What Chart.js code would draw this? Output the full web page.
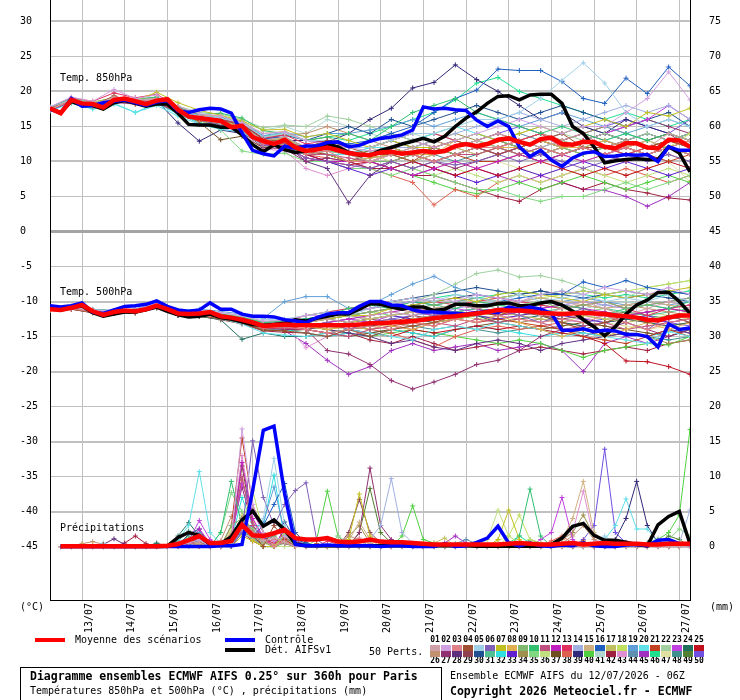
<!DOCTYPE html>
<html><head><meta charset="utf-8">
<script src="https://cdn.jsdelivr.net/npm/chart.js@4.4.1/dist/chart.umd.min.js"></script>
<style>html,body{margin:0;padding:0;background:#fff}canvas{display:block}</style>
</head><body>
<canvas id="c" width="740" height="700"></canvas>
<script>
// ---------- DATA ----------
const dayLabels = ['13/07','14/07','15/07','16/07','17/07','18/07','19/07','20/07','21/07','22/07','23/07','24/07','25/07','26/07','27/07'];
const leftTicks = [30,25,20,15,10,5,0,-5,-10,-15,-20,-25,-30,-35,-40,-45];
const rightTicks = [75,70,65,60,55,50,45,40,35,30,25,20,15,10,5,0];

// 6-hourly (0..360h) main series
const t850Mean = [17.6,16.9,18.8,18.3,18.2,17.7,18.8,19.0,18.6,18.2,18.7,18.9,17.4,16.4,16.2,16.0,15.8,14.9,15.1,13.5,12.9,12.5,13.1,12.0,11.5,11.7,12.0,11.6,11.2,11.0,10.9,11.3,11.4,11.1,11.3,11.5,11.3,11.5,12.2,12.5,12.2,12.5,13.1,13.3,12.8,12.4,13.2,13.4,12.5,12.4,12.8,12.8,12.1,11.9,12.6,12.6,12.0,11.9,13.1,13.0,12.1];
const t850Ctrl = [17.5,16.9,19.0,17.9,18.0,18.4,18.6,18.8,18.4,18.0,18.5,18.7,17.2,17.0,17.4,17.6,17.5,16.9,14.1,11.6,11.1,10.8,12.2,11.9,12.2,12.2,12.7,12.8,12.1,12.3,12.9,13.3,13.5,13.8,14.5,17.8,17.5,17.6,17.4,17.3,15.9,15.0,15.8,15.0,12.1,10.7,11.6,10.2,9.3,10.5,11.2,11.4,10.7,10.8,11.0,10.9,11.0,10.0,12.1,11.6,11.6];
const t850Det = [17.5,17.0,18.6,18.0,18.0,17.5,18.4,18.7,18.3,17.9,18.2,18.2,16.9,15.3,15.2,15.2,14.9,14.9,13.8,12.4,11.4,12.4,11.7,11.3,11.5,11.9,12.5,12.1,11.3,10.9,10.9,11.6,12.0,12.5,12.9,13.3,12.8,13.6,15.0,16.2,17.1,18.3,19.3,19.4,18.8,19.5,19.6,19.6,18.3,15.0,14.0,12.1,9.8,10.1,10.3,10.4,10.3,10.3,12.1,11.2,8.5];
const t500Mean = [-11.1,-11.2,-10.9,-10.5,-11.4,-11.9,-11.5,-11.3,-11.4,-11.1,-10.6,-11.1,-11.7,-11.8,-11.7,-11.5,-12.1,-12.3,-12.6,-13.0,-13.5,-13.4,-13.3,-13.4,-13.4,-13.4,-13.4,-13.4,-13.4,-13.3,-13.1,-13.1,-13.0,-12.9,-12.8,-12.6,-12.4,-12.2,-12.1,-11.9,-11.7,-11.5,-11.2,-11.3,-11.3,-11.4,-11.6,-11.7,-11.8,-11.7,-11.6,-11.7,-11.8,-12.0,-12.1,-12.3,-12.6,-12.7,-12.3,-12.0,-12.0];
const t500Ctrl = [-10.6,-10.8,-10.6,-10.2,-11.5,-11.7,-11.2,-10.7,-10.6,-10.4,-9.9,-10.7,-11.2,-11.4,-11.2,-10.2,-11.1,-11.1,-11.8,-12.1,-12.1,-12.2,-12.6,-12.8,-13.0,-12.3,-11.8,-11.6,-11.6,-10.7,-10.0,-10.0,-10.5,-10.6,-11.2,-11.5,-11.5,-11.6,-11.7,-11.8,-11.6,-11.4,-11.6,-10.8,-11.1,-10.8,-11.1,-11.7,-14.1,-14.1,-13.9,-14.3,-14.1,-14.2,-14.7,-14.7,-15.0,-16.5,-13.2,-14.0,-13.8];
const t500Det = [-11.0,-11.2,-10.9,-10.6,-11.6,-12.1,-11.8,-11.5,-11.5,-11.2,-10.8,-11.4,-11.9,-12.2,-12.1,-11.8,-12.3,-12.5,-12.9,-13.3,-13.4,-13.3,-13.1,-12.6,-12.8,-12.4,-12.1,-11.8,-11.8,-11.1,-10.3,-10.4,-10.8,-11.1,-10.8,-10.8,-11.3,-11.1,-10.4,-10.4,-10.6,-10.6,-10.3,-10.2,-10.6,-10.6,-10.2,-10.0,-10.5,-11.4,-12.6,-13.6,-14.9,-13.6,-11.8,-10.5,-9.8,-8.7,-8.7,-10.0,-11.7];
const rrMean = [null,0.05,0.05,0.05,0.05,0.05,0.05,0.05,0.05,0.05,0.05,0.1,0.35,0.9,1.5,0.5,0.5,0.8,3.1,1.6,1.5,1.9,2.4,1.2,1.0,1.0,1.2,0.7,0.6,0.7,1.0,0.7,0.6,0.6,0.5,0.4,0.3,0.3,0.3,0.3,0.3,0.3,0.3,0.4,0.5,0.4,0.3,0.3,0.4,0.5,0.3,0.4,0.5,0.4,0.4,0.4,0.3,0.3,0.4,0.4,0.4];
const rrCtrl = [null,0,0,0,0,0,0,0,0,0,0,0,0,0,0,0,0.1,0.1,0.3,8.0,16.6,17.2,7.5,0.3,0.1,0.1,0.2,0.1,0.1,0.1,0.1,0,0.1,0.1,0,0,0,0.4,0,0.1,0.6,1.2,2.9,0.5,0.1,0.5,0.1,0,0.2,0.1,0.5,0.1,0,0,0.2,0.3,0.1,0.9,1.0,0.4,0.3];
const rrDet = [null,0,0,0,0,0,0,0,0,0,0,0.05,1.3,2.0,1.6,0.3,0.4,1.4,3.8,5.1,2.9,3.8,2.4,0.4,0.1,0.1,0.1,0.1,0.1,0.1,0.1,0.1,0.1,0.1,0.1,0.1,0.1,0.1,0.1,0.1,0.05,0.05,0.05,0.05,0.05,0.05,0.05,0.3,1.2,2.9,3.3,1.6,0.9,0.9,0.6,0.3,0.1,3.1,4.3,5.0,0.4];

const memberColors = ['#d0a0a8','#d0a0e0','#e08088','#a05030','#a0d0e8','#8060b8','#c0c020','#e0b050','#80b870','#30c070','#c05080','#c020c0','#e03060','#a0b0e0','#d0b080','#2060c0','#c0c060','#c0e060','#60a0d8','#60e0e8','#c04020','#a0d0a0','#c040e0','#207060','#c01020',
'#c09070','#903070','#603080','#904050','#205090','#50c090','#30e0e0','#6020d0','#a09050','#80d880','#c0e080','#705020','#e06050','#302878','#50d040','#b0d8d0','#a02040','#e090d0','#6090b0','#a030c0','#20e090','#e0e0a0','#409090','#508030','#7050e0'];

// 12-hourly (0..360h) members, T850
const t850Members = [
[17.4,18.9,18.0,19.2,18.8,19.0,17.6,16.0,15.5,14.8,13.0,13.5,12,12,11,10,11,12,11,12,13,14,13,12,13,14,12,13,12,14,13],
[17.8,19.2,18.6,20.3,19.0,19.5,17.9,16.8,16.5,15.5,14.0,14.2,13,12.5,12,11.5,12,13,12,13,14,15,16,15,14,15,15,17,19,22.8,18.8],
[17.5,18.6,18.3,18.9,18.5,18.9,17.2,16.3,15.6,14.6,12.5,13.0,11,11.5,10,10,11,11,10,11,12,12,13,12,11,12,11,12,11,12,11],
[17.6,18.7,17.9,19.4,18.3,18.6,17.0,15.8,15.9,15.3,13.2,12.8,12,13,12,11,11,10,12,13,12,11,12,13,14,12,12,13,12,13,12],
[17.7,18.9,18.4,18.9,18.9,18.8,17.5,16.5,16.2,15.5,13.5,14.0,13,13,12,12,13,14,14,15,16,16,17,19,21.6,24.1,21.2,17,15,16,15],
[17.3,18.5,18.0,18.6,18.4,18.5,17.3,15.9,15.2,14.5,12.3,12.0,10.5,10,9.5,9,10,9,10,9.5,10,11,10,11,10,9,10,11,10,11,10],
[17.6,18.8,18.5,19.0,18.7,19.9,18.4,17.3,16.6,15.8,14.5,14.6,13.5,14,13,12,13,12,12,13,14,13,14,15,14,15,16,15,17,16.5,17.6],
[17.5,18.4,17.9,18.8,18.2,18.6,17.1,15.7,15.8,15.0,13.0,13.4,12,12.5,11,11,12,11,11,13,12,12,12,13,12,12,13,12,11,12,13],
[17.6,18.7,18.1,18.7,18.6,18.8,17.4,16.0,15.4,14.9,12.7,12.8,11,11.5,11,10,10,11,12,11,12,13,12,13,12,11,12,13,12,12,11],
[17.8,19.0,18.4,19.1,18.9,19.2,17.8,16.7,16.9,16.2,14.4,14.0,13,13.5,14,13,15,17,18,19,17,16,15,14,15,14,13,14,13,14,13],
[17.4,18.5,18.2,18.5,18.4,18.5,17.1,15.9,15.5,14.7,12.6,12.6,11,11,10.5,10,10,11,10,11,11,12,11,12,11,12,11,10,11,12,11],
[17.6,18.8,18.3,18.9,18.7,18.6,17.3,16.1,15.6,14.6,12.4,12.2,10.5,10,10,10,9,8,9,10,9,10,11,10,11,10,11,12,11,12,13],
[17.7,19.1,18.6,19.8,19.1,19.6,17.8,16.6,16.0,15.4,13.3,13.8,12.5,13,12,12,13,14,14,13,12,12,13,14,12,13,12,11,12,13,12],
[17.5,18.7,18.0,18.7,18.5,18.7,17.4,16.3,15.9,15.2,13.1,13.0,12,12.5,11.5,11,12,12,13,14,15,16,17,16,15,16,17,18,17,18,16],
[17.6,18.9,18.4,19.0,18.8,19.1,17.6,16.6,16.5,15.6,14.0,14.3,13,13.5,12,12,11,12,13,12,13,12,13,14,13,12,11,12,13,12,11],
[17.5,18.8,18.2,18.8,18.6,18.9,17.5,16.4,16.0,15.3,13.3,13.5,12,13,12.5,13,14,15,17,19,20.2,23.2,23,23,21.4,19,18.3,21.9,19.7,23.5,20.8],
[17.6,18.6,18.2,18.7,18.4,18.6,17.2,15.8,15.2,14.6,12.2,12.4,11,11,10,10.5,11,10,11,12,11,12,12,11,12,13,12,11,12,13,12],
[17.4,18.7,18.0,18.9,18.6,19.0,17.4,16.2,15.7,14.8,12.8,13.2,12,12,11,10,10,11,10,11,11,12,11,12,11,10,11,12,13,12,14],
[17.6,18.8,18.4,18.8,18.8,18.9,17.7,16.5,16.3,15.7,13.7,14.2,13.5,14,14,14.5,15,16,15,16,17,16,15,16,17,16,15,14,15,16,15],
[17.2,18.4,17.6,18.2,17.0,18.0,16.5,15.3,14.6,14.2,12.3,12.0,11,11,11,12,12,13,14,15,14,13,13,12,13,12,13,14,13,12,13],
[17.6,18.9,18.3,18.9,18.6,18.8,17.3,16.0,15.7,15.0,12.8,12.7,11.5,11,10,10.5,11,11,12,11,10,10,11,10,11,12,11,12,11,10,11],
[17.7,18.8,18.5,19.1,18.9,19.2,17.9,17.0,16.8,16.0,14.8,15.2,15,16.5,16,15,14,13,14,13,14,13,14,15,14,13,14,13,14,13,14],
[17.5,18.7,18.1,18.8,18.5,18.7,17.4,16.1,15.6,15.0,12.9,12.9,11.5,12,11,10,10,11,10,11,12,11,12,11,12,13,14,15,16,18,16],
[17.6,18.9,18.3,18.9,18.7,18.8,17.5,16.3,15.9,15.1,13.0,12.9,11.5,11,11,11,12,11,10,11,12,12,11,12,11,12,11,12,11,12,11],
[17.5,18.6,18.1,18.7,18.5,18.7,17.2,15.9,15.5,14.8,12.7,12.5,11,10,9.5,10,9,10,9,8,9,8,9,10,9,8,9,8,9,10,9],
[17.6,18.8,18.3,18.8,18.6,18.7,17.5,16.4,16.2,15.4,13.5,13.8,14,15,14,13,12,13,12,11,12,13,12,11,12,11,12,11,12,11,10],
[17.3,18.5,17.8,18.5,18.2,18.4,17.0,15.8,15.4,14.3,12.0,11.8,10,10.5,10,9,10,9,10,9,10,11,12,13,12,13,14,15,16,15,14],
[17.6,18.7,18.2,18.8,18.5,18.6,17.2,15.9,15.3,14.6,12.2,12.5,10,9,4.1,8,10,11,10,11,12,11,12,13,12,13,14,13,14,13,14],
[17.5,18.7,18.2,18.7,18.6,18.7,17.4,16.2,15.8,15.0,12.9,13.0,12,12.5,12,12,13,12,13,12,13,14,13,14,13,14,13,12,13,14,12],
[17.6,18.9,18.3,18.9,18.7,18.9,17.5,16.3,15.9,15.2,13.2,13.8,13,14,15,14,16,15,16,17,18,17,16,17,18,17,16,15,16,17,15],
[17.7,18.9,18.3,19.0,18.7,19.0,17.6,16.4,16.0,15.3,13.1,13.3,12,12,11,11,12,11,12,11,12,13,12,11,12,11,12,13,12,13,14],
[17.3,18.3,17.5,18.3,17.0,18.3,16.8,15.5,15.2,14.5,12.5,12.7,11,11.5,11,12,13,12,11,12,13,12,13,12,11,12,13,12,11,12,11],
[17.6,18.7,18.2,18.8,18.6,18.7,17.3,16.0,15.5,14.8,12.6,12.3,11,10,9,8,9,10,9,8,7,8,9,8,9,10,9,10,9,8,9],
[17.6,18.7,18.3,18.7,18.7,18.8,17.4,16.1,15.7,15.0,12.9,13.1,12,12,11,11,12,12,13,14,13,12,13,14,13,14,15,14,13,14,13],
[17.5,18.6,18.1,18.6,18.4,18.6,17.2,15.9,14.5,11.5,11.0,11.2,10,10,9,9,8,9,8,7,6,6,5,4.3,5,5,6,7,6,7,8],
[17.6,18.8,18.3,18.8,18.7,18.8,17.5,16.4,16.0,15.2,13.1,13.1,11.5,12,11,11,10,9,8,9,8,7,8,7,8,9,8,7,8,9,8],
[17.5,18.6,18.0,18.6,18.3,18.5,17.1,15.6,13.1,13.6,12.0,12.2,11,11,10,11,12,13,12,11,12,13,12,11,12,13,14,13,12,13,12],
[17.6,18.8,18.2,18.9,18.6,18.9,17.4,16.2,15.6,14.9,12.8,12.5,11,10.5,10,9,8,7,3.8,6,5,7,8,7,8,9,8,9,8,7,8],
[17.6,18.8,18.2,18.8,18.5,18.7,15.5,12.9,14.5,14.0,12.5,13.0,13,12.8,14,16,17.6,20.5,21.3,23.8,21.7,20,18,16,17,15,14,16,15,14,13],
[17.5,18.7,18.1,18.7,18.6,18.7,17.3,16.1,15.6,14.9,12.7,12.6,11,11,10,10,9,8,7,6,5.4,6,7,6,7,8,7,6,7,8,7],
[17.7,18.9,18.4,19.0,18.8,19.2,17.7,16.7,16.4,15.6,14.5,15.0,14,16,15,14,13,14,13,12,13,12,13,12,13,12,13,12,13,14,13],
[17.5,18.6,18.0,18.6,18.4,18.5,17.1,15.8,15.3,14.5,12.3,12.1,10.5,10,10,9,9,8,8,7,6,5,4.3,6,7,6,7,6,5.5,4.8,4.5],
[17.4,18.5,17.9,18.4,18.2,18.3,16.9,15.4,14.8,14.0,11.8,11.5,9,8,9,10,11,10,11,12,11,12,11,12,11,12,13,12,11,12,11],
[17.6,18.7,18.3,18.8,18.6,18.8,17.5,16.3,16.0,15.3,13.3,13.4,12,12.5,12,13,14,13,14,13,14,13,14,13,14,15,14,13,14,13,14],
[17.5,18.7,18.2,18.7,18.5,18.6,17.2,15.9,15.4,14.7,12.5,12.3,11,10,9,10,9,8,9,8,9,8,7,8,7,6,5.9,5,3.6,5,7],
[17.7,18.9,18.4,19.0,18.8,19.1,17.7,16.6,16.2,15.5,13.6,14.0,13,13.5,13,14,15,16,17,18.8,21.2,22,20,19,18,17,16,17,16,15,16],
[17.6,18.8,18.3,18.9,18.7,18.9,17.5,16.2,15.8,15.1,13.0,13.0,11.5,11,11,10,11,10,9,10,9,10,9,8,9,8,9,8,9,10,7.1],
[17.5,18.7,18.1,18.7,18.5,18.7,17.3,16.0,15.5,14.8,12.6,12.7,11,11,10,10,11,10,11,10,11,12,11,10,11,12,11,10,11,12,11],
[17.6,18.8,18.3,18.8,18.6,18.8,17.5,16.3,15.9,15.0,13.1,13.3,12,12,11,11.5,12,11,12,13,12,13,12,13,12,13,12,11,12,13,12],
[17.5,18.6,18.1,18.7,18.5,18.7,17.3,16.0,15.5,14.9,12.6,12.8,11.5,11,10,10,11,12,11,12,13,14,15,14,13,14,15,16,15,14,16]
];

// 12-hourly members, T500
const t500Members = [
[-11.2,-10.9,-11.3,-11.6,-11.3,-10.4,-11.6,-11.5,-12.0,-12.4,-13.2,-13.0,-13,-12.5,-13,-12,-11.5,-12,-11,-10.5,-11,-10,-11,-12,-11,-10,-11,-12,-11,-10,-11],
[-11.0,-10.7,-11.2,-11.3,-11.1,-10.2,-11.4,-11.3,-11.6,-12.0,-12.8,-12.7,-12,-12,-11.5,-11,-10.5,-10,-9.5,-10,-9,-9.5,-10,-9,-8.5,-9,-8,-8.5,-9,-8,-9],
[-11.1,-11.0,-11.5,-11.6,-11.5,-10.7,-11.8,-11.9,-12.3,-12.9,-13.8,-13.6,-14,-14.5,-14,-13.5,-14,-13,-13.5,-12.5,-13,-12,-12.5,-13,-12.5,-13,-12,-13,-14,-13,-12.5],
[-11.2,-11.1,-11.6,-11.7,-11.6,-10.8,-11.9,-12.0,-12.5,-13.0,-14.0,-14.2,-14.5,-15,-14,-15,-14,-13.5,-13,-12,-11.5,-12,-11,-12,-13,-14,-13,-12,-13,-12,-13],
[-11.0,-10.8,-11.2,-11.4,-11.2,-10.3,-11.4,-11.2,-11.6,-12.0,-12.6,-12.5,-12,-11.5,-12,-11,-10,-9.5,-10,-9,-9.5,-10,-9,-10,-9.5,-9,-10,-9.5,-10,-9,-10],
[-11.2,-11.0,-11.4,-11.6,-11.5,-10.7,-11.8,-11.8,-12.2,-12.8,-13.5,-13.6,-13.5,-13,-14,-13,-12.5,-13,-12,-11.5,-12,-11,-12,-13,-12,-11,-12,-13,-14,-12,-13],
[-11.1,-10.9,-11.3,-11.4,-11.3,-10.5,-11.6,-11.6,-12.0,-12.5,-13.4,-13.2,-13,-12.5,-12,-12,-11,-10.5,-10,-9.5,-10,-9,-8.5,-9,-9.5,-10,-9,-9.5,-9,-8.5,-8],
[-11.2,-11.0,-11.5,-11.5,-11.5,-10.7,-11.8,-11.9,-12.3,-12.8,-13.7,-13.5,-13.5,-14,-13.5,-13,-13.5,-14,-13,-12.5,-13,-12,-13,-14,-15,-14,-15,-14,-13,-14,-13],
[-11.1,-10.8,-11.3,-11.4,-11.3,-10.5,-11.6,-11.5,-11.9,-12.4,-13.2,-13.1,-13,-12.5,-12,-11.5,-11,-11,-10.5,-10,-9.5,-10,-10.5,-10,-11,-10.5,-10,-11,-10.5,-10,-9.5],
[-11.0,-10.8,-11.2,-11.3,-11.1,-10.3,-11.4,-11.4,-11.8,-12.3,-13.0,-12.8,-12.5,-12,-11,-10.5,-11,-10,-10.5,-11,-10,-10.5,-11,-10,-10.5,-11,-12,-11,-10.5,-11,-10],
[-11.2,-11.0,-11.5,-11.6,-11.5,-10.8,-11.9,-12.0,-12.4,-12.9,-13.8,-13.8,-14,-14.5,-15,-14,-13.5,-14,-13,-13.5,-12.5,-13,-12.5,-13,-14,-13.5,-13,-14,-13.5,-13,-12.5],
[-11.1,-10.9,-11.4,-11.5,-11.4,-10.6,-11.7,-11.7,-12.1,-12.6,-13.5,-13.4,-13.5,-13,-12.5,-12,-11.5,-11,-11.5,-10.5,-11,-12,-11.5,-11,-10.5,-11,-11.5,-12,-11.5,-11,-11.5],
[-11.2,-10.9,-11.4,-11.6,-11.4,-10.5,-11.7,-11.8,-12.2,-12.7,-13.3,-12.8,-12,-11.5,-11,-10.5,-10,-9.5,-10,-10.5,-10,-9.5,-10,-10.5,-11,-10.5,-10,-11,-12,-11,-10.5],
[-11.1,-10.9,-11.3,-11.5,-11.4,-10.6,-11.7,-11.7,-12.1,-12.6,-13.4,-13.3,-13.5,-13,-12.5,-12,-11.5,-12,-11.5,-11,-10.5,-10,-10.5,-11,-10.5,-10,-10.5,-11,-10.5,-11,-10.5],
[-11.0,-10.8,-11.3,-11.4,-11.3,-10.5,-11.6,-11.6,-12.0,-12.5,-13.2,-13.0,-13,-12.5,-12,-12.5,-12,-11.5,-11,-10.5,-10,-10.5,-10,-9.5,-10,-10.5,-11,-10.5,-10,-10.5,-11],
[-11.1,-10.9,-11.3,-11.5,-11.3,-10.5,-11.6,-11.6,-12.0,-12.4,-13.1,-12.9,-12.5,-12,-11.5,-11,-10.5,-10,-10.5,-10,-9.5,-10,-9.5,-9,-9,-7.2,-8,-7,-8,-8.5,-9],
[-11.2,-11.0,-11.5,-11.6,-11.5,-10.8,-11.8,-11.9,-12.3,-12.8,-13.7,-13.6,-13.5,-14,-13.5,-14,-13,-12.5,-12,-12.5,-12,-11.5,-12,-12.5,-13,-12,-12.5,-13,-12.5,-12,-12.5],
[-11.1,-10.9,-11.4,-11.5,-11.4,-10.6,-11.7,-11.7,-12.1,-12.6,-13.5,-13.3,-13,-13.5,-13,-12.5,-12,-11.5,-11,-10.5,-10,-9.5,-9,-9.5,-9,-8.5,-9,-8.5,-8,-7.5,-7],
[-11.0,-10.7,-11.1,-11.3,-11.1,-10.2,-11.3,-11.1,-11.4,-11.8,-12.4,-10.0,-9.3,-9.3,-11,-10.5,-9,-7.5,-6.4,-8,-9,-9.5,-10,-9.5,-10,-9.5,-10,-10.5,-10,-10.5,-10],
[-11.2,-11.0,-11.5,-11.7,-11.6,-10.8,-11.9,-12.0,-12.5,-13.2,-14.5,-14.8,-15,-14.5,-14,-14.5,-15,-15.5,-14,-13.5,-14,-13,-13.5,-14,-15,-14.5,-15,-15.5,-16,-14.3,-15],
[-11.1,-10.9,-11.4,-11.5,-11.4,-10.6,-11.7,-11.8,-12.2,-12.7,-13.6,-13.5,-13.5,-13,-13.5,-14,-13.5,-13,-13.5,-12.5,-13,-12.5,-13,-13.5,-14,-15,-15.5,-16,-15,-14,-15],
[-11.0,-10.7,-11.2,-11.3,-11.1,-10.3,-11.4,-11.3,-11.7,-12.2,-12.9,-12.6,-12,-11.5,-11,-10.5,-11,-10,-9,-7.5,-6,-5.5,-6.5,-6.3,-7,-8,-9,-9.5,-8,-7.5,-7],
[-11.1,-10.9,-11.4,-11.5,-11.4,-10.6,-11.7,-11.8,-12.2,-12.7,-13.6,-13.4,-13.5,-13,-12.5,-13,-12,-11.5,-12,-11,-11.5,-11,-10.5,-11,-10.5,-10,-10.5,-11,-10.5,-10,-9.5],
[-11.2,-11.0,-11.6,-11.7,-11.6,-10.9,-12.0,-12.1,-12.6,-15.4,-14.5,-15.0,-15,-14.5,-14,-13.5,-13,-12.5,-13,-12.5,-12,-13,-12.5,-12,-13,-13.5,-13,-12.5,-13,-13.5,-13],
[-11.1,-10.9,-11.4,-11.6,-11.5,-10.7,-11.8,-11.9,-12.3,-12.8,-13.8,-13.8,-14,-14.5,-14,-14.5,-15,-14,-14.5,-14,-13.5,-14,-13.5,-14,-14.5,-15,-16,-18.5,-18.6,-19.3,-20.4],
[-11.0,-10.8,-11.3,-11.4,-11.3,-10.5,-11.6,-11.6,-12.0,-12.5,-13.3,-13.1,-13,-12.5,-12,-11.5,-11,-11.5,-11,-10.5,-11,-10.5,-10,-10.5,-11,-10.5,-11,-10.5,-11,-11.5,-12],
[-11.2,-11.0,-11.5,-11.7,-11.6,-10.8,-11.9,-12.0,-12.5,-13.0,-13.8,-14.0,-14,-17,-17.5,-19,-21.3,-22.5,-21.5,-20.4,-19,-18.4,-17,-15,-14,-15,-14,-13,-14,-15,-14],
[-11.1,-10.9,-11.4,-11.5,-11.4,-10.6,-11.7,-11.7,-12.1,-12.6,-13.5,-13.4,-13.5,-14,-14.5,-15,-16,-15.5,-16.5,-17,-16,-15.5,-16,-17,-16,-15.5,-15,-14.5,-15,-14,-14.5],
[-11.2,-11.0,-11.5,-11.6,-11.5,-10.7,-11.8,-11.8,-12.2,-12.7,-13.6,-13.5,-14,-13.5,-13,-12.5,-13,-12,-12.5,-12,-11.5,-12,-11.5,-12,-12.5,-12,-11.5,-12,-11.5,-11,-11.5],
[-11.0,-10.8,-11.3,-11.4,-11.2,-10.4,-11.5,-11.5,-11.9,-12.4,-13.2,-13.0,-12.5,-12,-11.5,-11,-10,-9.5,-9,-8.5,-8,-8.5,-9,-8.5,-9,-9.5,-9,-8.5,-9,-9.5,-10],
[-11.1,-10.9,-11.4,-11.5,-11.4,-10.6,-11.7,-11.7,-12.1,-12.6,-13.4,-13.3,-13,-12.5,-12,-12.5,-12,-11.5,-11,-11.5,-11,-10.5,-11,-11.5,-11,-10.5,-11,-11.5,-12,-11.5,-11],
[-11.2,-11.0,-11.5,-11.6,-11.5,-10.8,-11.9,-11.9,-12.3,-12.9,-13.9,-14.0,-14.5,-15,-14.5,-15,-14,-14.5,-15,-14,-13.5,-14,-14.5,-15,-14.5,-15,-14,-14.5,-15,-14.3,-14],
[-11.1,-10.9,-11.3,-11.5,-11.3,-10.5,-11.6,-11.6,-12.0,-12.5,-13.3,-13.2,-13,-13.5,-13,-12.5,-12,-12.5,-12,-11.5,-12,-12.5,-12,-11.5,-12,-12.5,-13,-12.5,-12,-13,-12.5],
[-11.2,-11.0,-11.5,-11.6,-11.5,-10.7,-11.8,-11.9,-12.3,-12.8,-13.7,-13.6,-14,-14.5,-14,-13.5,-13,-13.5,-13,-12.5,-12,-12.5,-13,-12.5,-13,-14,-15,-14.5,-15,-16,-15.5],
[-11.0,-10.8,-11.2,-11.3,-11.2,-10.4,-11.5,-11.4,-11.8,-12.3,-13.1,-12.9,-13,-12.5,-12,-11.5,-12,-11.5,-11,-10.5,-11,-11.5,-11,-10.5,-11,-11.5,-11,-12,-11.5,-11,-11.5],
[-11.1,-10.9,-11.4,-11.5,-11.4,-10.6,-11.7,-11.7,-12.1,-12.6,-13.4,-13.3,-13.5,-13,-13.5,-13,-12.5,-13,-12.5,-12,-12.5,-12,-11.5,-12,-11.5,-12,-12.5,-12,-11.5,-12,-11.5],
[-11.2,-11.0,-11.5,-11.7,-11.6,-10.9,-12.0,-12.1,-12.5,-13.1,-14.1,-14.2,-14,-14.5,-15,-14.5,-14,-14.5,-15,-14,-13.5,-13,-13.5,-14,-13.5,-13,-13.5,-14,-14.5,-15,-14],
[-11.1,-10.9,-11.4,-11.5,-11.4,-10.6,-11.7,-11.8,-12.2,-12.7,-13.6,-13.5,-13.5,-14,-13.5,-14,-14.5,-15.5,-16.5,-15,-14,-13.5,-14,-13.5,-13,-13.5,-13,-12.5,-13,-13.5,-13],
[-11.1,-10.8,-11.3,-11.4,-11.3,-10.5,-11.6,-11.6,-12.0,-12.5,-13.2,-13.0,-13,-12.5,-12,-11.5,-11,-10.5,-10,-9.5,-9,-9.5,-9,-8.5,-9,-8.5,-9,-9.5,-9,-8.5,-9],
[-11.2,-11.0,-11.5,-11.6,-11.5,-10.7,-11.8,-11.9,-12.3,-12.8,-13.7,-13.6,-13.5,-14,-14.5,-15,-14.5,-14,-14.5,-15,-15.5,-16,-15.5,-16,-17,-18,-17,-16.5,-16,-16.2,-15],
[-11.0,-10.8,-11.2,-11.4,-11.2,-10.4,-11.5,-11.5,-11.9,-12.4,-13.2,-13.1,-13,-12.5,-12,-12,-11.5,-11,-10.5,-10,-10.5,-11,-10.5,-10,-10.5,-11,-10.5,-10,-10.5,-11,-10.5],
[-11.2,-11.1,-11.6,-11.7,-11.6,-10.9,-12.0,-12.1,-12.6,-13.2,-14.2,-14.4,-14.5,-15,-14.5,-15.5,-16,-15,-16,-17,-16.5,-16,-17,-16.5,-17,-17.5,-17,-16.5,-17,-16,-15.5],
[-11.1,-10.9,-11.4,-11.5,-11.4,-10.6,-11.7,-11.7,-12.1,-12.6,-13.4,-13.3,-16.6,-15,-14,-13.5,-13,-13.5,-13,-12.5,-13,-12.5,-12,-12.5,-13,-12.5,-12,-12.5,-13,-12.5,-12],
[-11.0,-10.9,-11.3,-11.4,-11.3,-10.5,-11.6,-11.6,-12.0,-12.5,-13.3,-13.2,-13,-13.5,-13,-12.5,-12,-12.5,-12,-11.5,-11,-11.5,-11,-11.5,-12,-11.5,-12,-12.5,-12,-12.5,-12],
[-11.2,-11.0,-11.5,-11.7,-11.6,-10.8,-11.9,-12.0,-12.4,-12.9,-13.8,-14.2,-16,-18.4,-20.4,-19.3,-17,-16,-17,-16.5,-16,-17,-16.5,-16,-17,-20,-16,-15,-16,-15,-14],
[-11.0,-10.8,-11.2,-11.3,-11.1,-10.3,-11.4,-11.3,-11.7,-12.2,-12.9,-12.7,-12.5,-12,-11.5,-11,-10.5,-10,-9.5,-9,-9.5,-9,-8.5,-9,-8.5,-9,-9.5,-9,-9.5,-9,-8.5],
[-11.1,-10.9,-11.4,-11.5,-11.4,-10.6,-11.7,-11.8,-12.2,-12.7,-13.5,-13.4,-13,-13.5,-14,-13.5,-13,-12.5,-13,-12.5,-12,-12.5,-12,-11.5,-12,-12.5,-13,-13.5,-14,-13.5,-13],
[-11.2,-11.0,-11.5,-11.6,-11.5,-10.7,-11.8,-11.9,-12.3,-12.8,-13.7,-13.7,-14,-13.5,-14,-14.5,-14,-13.5,-14,-13.5,-14,-14.5,-14,-13.5,-14,-14.5,-15,-14.5,-15,-15.5,-15],
[-11.1,-10.9,-11.3,-11.5,-11.3,-10.5,-11.6,-11.7,-12.1,-12.6,-13.4,-13.3,-13,-12.5,-13,-12.5,-12,-11.5,-12,-11.5,-11,-11.5,-12,-11.5,-12,-11.5,-12,-11.5,-12,-12.5,-12],
[-11.1,-10.9,-11.4,-11.5,-11.4,-10.6,-11.7,-11.8,-12.2,-12.7,-13.6,-13.5,-13.5,-13,-12.5,-13,-12.5,-12,-11.5,-12,-11.5,-11,-11.5,-12,-12.5,-13,-12.5,-12,-12.5,-13,-13.5]
];

// 6-hourly precipitation of members: [step index, mm] where it rained, 0 elsewhere
const rrMembers = [
[[12,0.3],[13,0.8],[14,0.5],[17,0.6],[18,2.5],[19,1.5],[20,0.8],[21,1.2],[22,0.6],[30,0.3],[44,0.4]],
[[13,0.5],[14,1.0],[17,1.0],[18,16.8],[19,6],[20,2],[21,0.8],[22,1.5],[23,0.5],[51,0.5]],
[[12,0.4],[13,0.6],[16,0.5],[17,1.8],[18,4],[19,2],[20,1],[22,0.8],[28,0.5],[29,1.2],[30,0.4]],
[[5,0.3],[13,0.4],[14,0.6],[17,0.8],[18,3],[19,2],[21,3],[22,1],[25,0.4],[33,0.5],[50,0.8]],
[[5,0.5],[14,0.8],[17,0.5],[18,3],[19,1.5],[20,4],[21,12.6],[22,3],[23,0.5],[52,1.5],[53,0.5]],
[[13,0.5],[14,0.8],[18,2],[19,15.1],[20,7],[21,3],[22,6],[23,8],[24,9.1],[25,1]],
[[14,0.4],[18,1.5],[19,0.8],[22,2],[23,0.5],[28,1],[29,7.5],[30,1.5],[31,0.5],[42,1],[43,5.2],[44,1]],
[[3,0.3],[4,0.2],[13,0.6],[17,0.8],[18,2.8],[19,1],[22,1.4],[23,0.6]],
[[12,0.3],[13,1.2],[14,0.8],[17,3],[18,4],[19,2.5],[20,0.6],[21,1.5],[22,0.5],[30,0.4]],
[[13,0.5],[16,2],[17,9.3],[18,3],[19,1],[22,1.5],[23,0.3],[44,1.5],[45,8.2],[46,1.5]],
[[13,0.8],[14,1.0],[17,1.5],[18,10],[19,3],[20,1],[21,0.8],[22,0.4],[54,0.6]],
[[13,0.6],[14,2.5],[15,0.5],[17,1],[18,12],[19,4],[20,1.2],[22,2.5],[23,1],[34,0.3]],
[[12,0.4],[13,0.9],[17,0.6],[18,3],[19,2],[20,1],[21,0.5],[22,1],[26,0.8],[27,0.3]],
[[13,0.5],[18,2],[19,1],[22,0.8],[30,1],[31,3],[32,9.7],[33,2],[34,0.5],[59,0.5],[60,5.2]],
[[13,0.4],[14,0.7],[17,1.5],[18,3.5],[19,2.5],[20,0.8],[22,0.6],[28,0.8],[29,3.5],[30,1],[48,1],[49,4],[50,9.3],[51,2],[52,0.8]],
[[13,0.3],[17,0.5],[18,2],[19,1.5],[20,3],[21,6],[22,9],[23,2],[24,0.5]],
[[14,0.5],[18,4.5],[19,1],[22,1],[23,0.4],[36,0.5],[37,1.2]],
[[13,0.5],[14,0.9],[17,2],[18,3.5],[19,8],[20,2],[22,1],[43,1.5],[44,4.5],[45,1],[46,0.5]],
[[13,0.6],[14,2],[17,1.5],[18,2],[19,2],[20,3.5],[21,8.5],[22,2],[23,0.8],[24,0.4]],
[[12,1],[13,3],[14,10.7],[15,2],[16,0.5],[18,3],[19,1],[22,1.5],[23,0.5],[52,1],[53,3],[54,6.8],[55,2.5],[56,2.5],[57,0.5]],
[[13,0.6],[14,1.0],[17,3],[18,15.5],[19,6],[20,2],[21,1],[22,0.5]],
[[13,0.5],[17,1],[18,2.5],[19,1],[22,0.8],[27,1.5],[28,0.5],[56,0.4],[57,1.2],[58,0.5]],
[[13,0.8],[14,3.7],[15,1],[17,1.2],[18,9],[19,5],[20,2],[22,1.2],[46,1],[47,2],[48,7],[49,1]],
[[10,0.5],[12,1.5],[13,3.4],[14,1.5],[17,1],[18,4],[19,1.5],[20,0.8],[22,0.6]],
[[14,0.4],[18,2],[19,0.8],[22,0.6],[23,0.2]],
[[3,0.4],[4,0.7],[5,0.3],[13,0.8],[14,1.4],[16,0.8],[17,4.3],[18,2.5],[19,2],[20,1],[22,0.8],[23,1.2],[28,1.5],[29,1],[48,0.5],[49,1.5],[50,3],[51,1]],
[[13,0.7],[14,1.1],[17,1.5],[18,8.5],[19,3],[20,1],[22,1.2],[23,0.5],[29,2],[30,11.2],[31,3],[32,1],[33,0.3]],
[[5,0.3],[6,1.1],[7,0.3],[13,0.5],[14,0.8],[18,3],[19,1.5],[20,0.8],[22,2.5],[23,0.5],[56,0.5]],
[[9,0.2],[13,0.6],[14,1],[17,0.8],[18,2.5],[19,1.5],[22,1],[23,0.6],[28,2],[29,6.7],[30,2],[31,0.5]],
[[13,1.8],[14,2.5],[18,4],[19,2],[20,1],[21,1.5],[22,3.5],[23,1],[24,0.5]],
[[12,0.5],[13,1.5],[14,0.9],[17,1],[18,3.5],[19,1.2],[22,0.7],[23,0.3],[45,1],[46,0.5]],
[[13,1],[14,2],[17,0.8],[18,7],[19,3],[20,3],[21,10.2],[22,1],[23,0.4]],
[[13,0.7],[14,1.6],[17,1.2],[18,2],[19,3],[20,1],[22,1.5],[23,0.5]],
[[13,0.5],[14,0.9],[17,1.5],[18,4],[19,2],[20,0.7],[22,2],[23,0.8],[28,1.5],[29,3],[30,0.5],[48,1],[49,2],[50,4.5],[51,1.5],[52,1],[53,0.5]],
[[12,0.3],[13,0.6],[16,2],[17,7.7],[18,5],[19,2],[20,1],[22,0.5],[58,1],[59,2.5],[60,1.5]],
[[13,0.4],[14,0.8],[17,2.5],[18,2],[19,1.5],[20,0.5],[41,1],[42,5.2],[43,1.5],[44,0.5]],
[[13,0.5],[14,1.2],[17,1.5],[18,11.5],[19,3],[20,1],[22,0.8],[23,0.4],[32,0.5]],
[[13,0.6],[14,1.8],[17,2],[18,9.5],[19,3.5],[20,1.5],[22,1],[23,2],[24,0.5],[47,0.8],[48,1.5],[49,0.5]],
[[13,0.8],[14,1.5],[17,1.2],[18,3],[19,1],[22,0.8],[23,0.3],[53,1],[54,4],[55,9.3],[56,3],[57,0.5]],
[[13,0.4],[14,0.6],[18,2],[19,1],[22,0.6],[25,1],[26,7.9],[27,1.5],[33,1.5],[34,5.8],[35,1],[36,0.5],[57,1],[58,2],[59,4.5],[60,16.7]],
[[13,0.5],[14,1],[18,2.5],[19,1],[22,0.6],[23,0.3]],
[[7,0.5],[8,1.5],[9,0.4],[13,0.8],[14,1.3],[17,0.8],[18,2.5],[19,2],[20,0.8],[22,1.2],[23,0.5]],
[[13,0.6],[14,1.2],[17,1.5],[18,13],[19,4],[20,1.5],[22,1.5],[23,0.5],[48,1],[49,2],[50,7.9],[51,1],[52,0.5]],
[[13,0.5],[14,0.7],[18,3],[19,1.5],[22,0.7],[23,0.3],[38,0.4],[39,1],[40,0.4]],
[[13,1],[14,2],[17,1.5],[18,3],[19,3],[20,1.5],[22,1.5],[23,0.8],[24,0.3],[37,0.5],[38,1.5],[39,0.5]],
[[13,0.4],[17,1],[18,3.5],[19,1],[22,0.5],[43,0.5],[44,1.5],[45,0.5]],
[[13,0.3],[14,0.6],[17,0.5],[18,2],[19,0.8],[22,0.5],[42,0.8],[43,1.5],[44,0.4]],
[[12,0.8],[13,2.2],[14,1],[17,1],[18,3.5],[19,1.5],[22,1],[23,0.4]],
[[13,0.5],[14,0.8],[18,4],[19,1.5],[22,0.8],[23,0.4],[29,2],[30,8.3],[31,2],[32,0.5],[57,0.5],[58,1.5],[59,1]],
[[13,0.4],[14,1.5],[17,1],[18,2],[19,2],[20,0.6],[22,0.8],[23,0.3],[50,1],[51,3],[52,13.9],[53,2],[54,0.5]]
];

// ---------- BUILD ----------
const FONT = '"DejaVu Sans Mono", "Liberation Mono", monospace';
const s6 = arr => arr.map((v, i) => ({x: i * 6, y: v}));
const s12 = arr => arr.map((v, j) => ({x: j * 12, y: v}));
const rrFull = pairs => { const a = new Array(61).fill(0); a[0] = null; pairs.forEach(([i, v]) => { a[i] = v; }); return a; };

const datasets = [];
function mainLine(data, color, width, axis, order) {
  datasets.push({data, borderColor: color, backgroundColor: color, borderWidth: width, pointRadius: 0, yAxisID: axis, order, tension: 0, fill: false});
}
mainLine(s6(t850Mean), '#ff0000', 4.5, 'y', 0);
mainLine(s6(t500Mean), '#ff0000', 4.5, 'y', 0);
mainLine(s6(rrMean), '#ff0000', 4.5, 'y2', 0);
mainLine(s6(t850Ctrl), '#0000ff', 3.5, 'y', 1);
mainLine(s6(t500Ctrl), '#0000ff', 3.5, 'y', 1);
mainLine(s6(rrCtrl), '#0000ff', 3.5, 'y2', 1);
mainLine(s6(t850Det), '#000000', 3.5, 'y', 2);
mainLine(s6(t500Det), '#000000', 3.5, 'y', 2);
mainLine(s6(rrDet), '#000000', 3.5, 'y2', 2);

function memberLine(data, color, axis) {
  datasets.push({data, borderColor: color, backgroundColor: color, borderWidth: 1, pointStyle: 'cross', pointRadius: 2.5, pointBorderWidth: 1, pointBorderColor: color, yAxisID: axis, order: 3, tension: 0, fill: false});
}
for (let k = 0; k < 50; k++) {
  const c = memberColors[k];
  memberLine(s12(t850Members[k]), c, 'y');
  memberLine(s12(t500Members[k]), c, 'y');
  memberLine(s6(rrFull(rrMembers[k])), c, 'y2');
}

const Y_MIN = -52.64, Y_MAX = 33.07;
const gridW = v => v === 0 ? 3 : (v <= -45 ? 0 : (v % 10 === 0 ? 2 : 1));
const gridC = v => v <= -45 ? 'rgba(0,0,0,0)' : (v === 0 ? '#a4a4a4' : '#c0c0c0');
const noPad = s => { s.paddingTop = 0; s.paddingBottom = 0; s.paddingLeft = 0; s.paddingRight = 0; };

const decor = {
  id: 'decor',
  afterDraw(chart) {
    const ctx = chart.ctx;
    ctx.save();
    ctx.fillStyle = '#000';
    ctx.textBaseline = 'middle';
    ctx.textAlign = 'left';
    ctx.font = '10px ' + FONT;
    ctx.fillText('Temp. 850hPa', 60, 78);
    ctx.fillText('Temp. 500hPa', 60, 292);
    ctx.fillText('Précipitations', 60, 528);
    ctx.fillText('(°C)', 20, 607);
    ctx.fillText('(mm)', 710, 607);
    // legend
    ctx.lineWidth = 4;
    [['#ff0000', 35, 65, 640], ['#0000ff', 225, 255, 640], ['#000000', 225, 255, 650]].forEach(([c, x1, x2, y]) => {
      ctx.strokeStyle = c; ctx.beginPath(); ctx.moveTo(x1, y); ctx.lineTo(x2, y); ctx.stroke();
    });
    ctx.fillText('Moyenne des scénarios', 75, 640);
    ctx.fillText('Contrôle', 265, 640);
    ctx.fillText('Dét. AIFSv1', 265, 650);
    ctx.fillText('50 Perts.', 369, 652);
    ctx.font = 'bold 8px ' + FONT;
    ctx.textAlign = 'center';
    for (let k = 0; k < 25; k++) {
      const x = 430 + 11 * k;
      ctx.fillStyle = '#000';
      ctx.fillText(String(k + 1).padStart(2, '0'), x + 5, 640);
      ctx.fillText(String(k + 26), x + 5, 661);
      ctx.fillStyle = memberColors[k]; ctx.fillRect(x, 645, 10, 6);
      ctx.fillStyle = memberColors[k + 25]; ctx.fillRect(x, 651, 10, 6);
    }
    // title box
    ctx.fillStyle = '#000';
    ctx.textAlign = 'left';
    ctx.strokeStyle = '#000'; ctx.lineWidth = 1;
    ctx.strokeRect(20.5, 667.5, 421, 40);
    ctx.font = 'bold 11.5px ' + FONT;
    ctx.fillText('Diagramme ensembles ECMWF AIFS 0.25° sur 360h pour Paris', 30, 677);
    ctx.font = '10px ' + FONT;
    ctx.fillText('Températures 850hPa et 500hPa (°C) , précipitations (mm)', 30, 691);
    ctx.fillText('Ensemble ECMWF AIFS du 12/07/2026 - 06Z', 450, 676);
    ctx.font = 'bold 11.5px ' + FONT;
    ctx.fillText('Copyright 2026 Meteociel.fr - ECMWF', 450, 692);
    ctx.restore();
  }
};

new Chart(document.getElementById('c'), {
  type: 'line',
  data: {datasets},
  options: {
    responsive: false,
    animation: false,
    events: [],
    devicePixelRatio: 1,
    layout: {padding: {left: 20, right: 0, top: 0, bottom: 0}, autoPadding: false},
    plugins: {legend: {display: false}, tooltip: {enabled: false}},
    scales: {
      x: {
        type: 'linear', position: 'bottom', min: 0, max: 360,
        afterBuildTicks: s => { s.ticks = dayLabels.map((l, k) => ({value: 18 + 24 * k})); },
        afterFit: s => { s.height = 100; noPad(s); },
        grid: {color: '#c0c0c0', lineWidth: 1, drawTicks: false},
        border: {color: '#000', width: 1},
        ticks: {autoSkip: false, minRotation: 90, maxRotation: 90, padding: 3, labelOffset: 7, color: '#000',
          font: {family: FONT, size: 10}, callback: (v, i) => dayLabels[i]}
      },
      y: {
        type: 'linear', position: 'left', min: Y_MIN, max: Y_MAX,
        afterBuildTicks: s => { s.ticks = leftTicks.map(v => ({value: v})); },
        afterFit: s => { s.width = 30; noPad(s); },
        grid: {drawTicks: false, color: c => gridC(c.tick.value), lineWidth: c => gridW(c.tick.value)},
        border: {color: '#000', width: 1},
        ticks: {crossAlign: 'far', padding: 0, color: '#000', font: {family: FONT, size: 10}, callback: v => String(v)}
      },
      y2: {
        type: 'linear', position: 'right', min: Y_MIN + 45, max: Y_MAX + 45,
        afterBuildTicks: s => { s.ticks = rightTicks.map(v => ({value: v})); },
        afterFit: s => { s.width = 50; noPad(s); },
        grid: {display: false, drawTicks: false},
        border: {display: true, color: '#000', width: 1},
        ticks: {padding: 19, color: '#000', font: {family: FONT, size: 10}, callback: v => String(v)}
      }
    }
  },
  plugins: [decor]
});
</script>
</body></html>
